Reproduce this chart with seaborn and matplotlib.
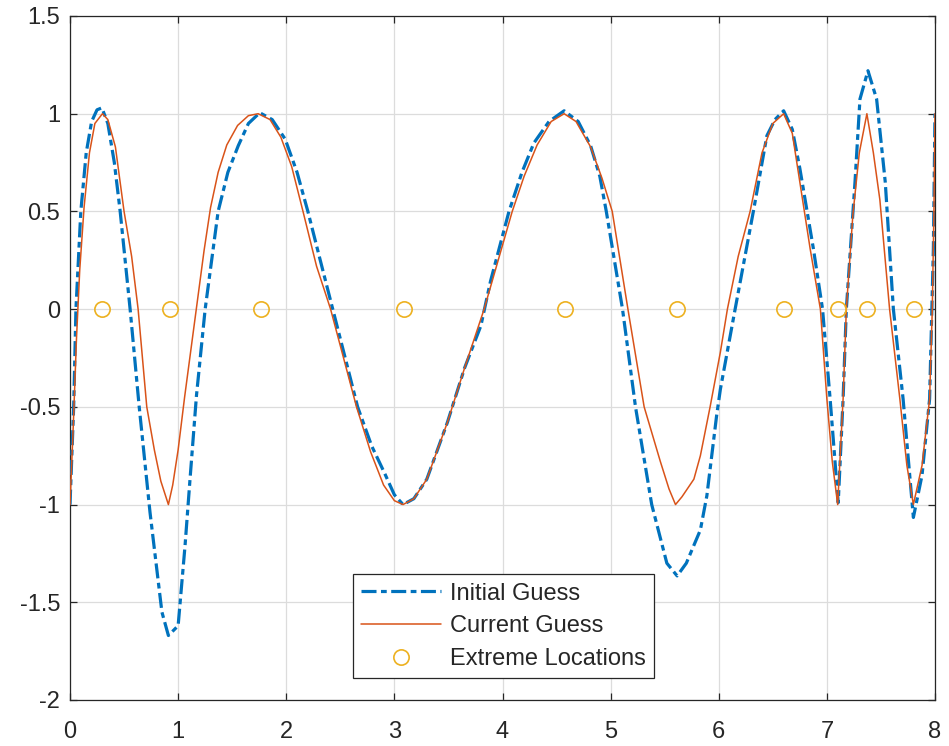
import numpy as np
import pandas as pd
import matplotlib
matplotlib.use("Agg")
import matplotlib.pyplot as plt
import seaborn as sns

# --- data ---
init_x = [0.0, 0.034, 0.055, 0.10, 0.15, 0.2, 0.25, 0.295, 0.35, 0.41, 0.464, 0.556, 0.64,
          0.74, 0.85, 0.91, 1.0, 1.064, 1.11, 1.17, 1.25, 1.37, 1.46, 1.556, 1.65, 1.755,
          1.87, 1.99, 2.10, 2.20, 2.31, 2.43, 2.55, 2.66, 2.79, 2.91, 3.0, 3.08, 3.18,
          3.30, 3.49, 3.65, 3.80, 3.89, 4.06, 4.18, 4.29, 4.43, 4.57, 4.70, 4.815, 4.90,
          4.96, 5.11, 5.23, 5.38, 5.52, 5.615, 5.70, 5.83, 5.89, 5.98, 6.015, 6.14, 6.32,
          6.445, 6.52, 6.60, 6.68, 6.75, 6.875, 6.96, 7.03, 7.105, 7.15, 7.18, 7.26,
          7.306, 7.38, 7.46, 7.54, 7.615, 7.705, 7.80, 7.88, 7.95, 7.985, 8.0]
init_y = [-1.0, -0.5, 0.0, 0.5, 0.8, 0.96, 1.02, 1.03, 0.95, 0.75, 0.5, 0.0, -0.5,
          -1.04, -1.55, -1.67, -1.62, -1.21, -0.87, -0.44, 0.0, 0.5, 0.7, 0.836, 0.95, 1.005,
          0.97, 0.87, 0.7, 0.5, 0.26, 0.0, -0.26, -0.5, -0.7, -0.84, -0.95, -1.0, -0.97,
          -0.87, -0.58, -0.3, -0.085, 0.145, 0.5, 0.7, 0.85, 0.96, 1.015, 0.96, 0.836, 0.68,
          0.5, 0.0, -0.5, -1.0, -1.3, -1.365, -1.3, -1.13, -0.955, -0.546, -0.41, -0.034, 0.5,
          0.887, 0.97, 1.015, 0.92, 0.72, 0.31, 0.0, -0.46, -0.99, -0.46, 0.0, 0.65,
          1.075, 1.22, 1.075, 0.65, 0.0, -0.46, -1.066, -0.85, -0.46, 0.31, 1.0]

curr_x = [0.0, 0.03, 0.06, 0.09, 0.13, 0.18, 0.23, 0.30, 0.35, 0.42, 0.50, 0.57, 0.63,
          0.71, 0.78, 0.84, 0.91, 0.95, 1.0, 1.06, 1.12, 1.18, 1.24, 1.30, 1.37, 1.45,
          1.55, 1.65, 1.74, 1.85, 1.95, 2.05, 2.155, 2.28, 2.41, 2.53, 2.65, 2.78, 2.90,
          3.0, 3.08, 3.18, 3.30, 3.49, 3.65, 3.83, 3.96, 4.09, 4.20, 4.32, 4.45, 4.57,
          4.68, 4.815, 4.92, 5.015, 5.16, 5.31, 5.46, 5.54, 5.60, 5.66, 5.77, 5.83, 5.92,
          6.015, 6.08, 6.18, 6.29, 6.40, 6.50, 6.60, 6.68, 6.75, 6.845, 6.94, 7.0, 7.05,
          7.10, 7.15, 7.18, 7.24, 7.30, 7.37, 7.43, 7.49, 7.58, 7.675, 7.74, 7.80, 7.88,
          7.95, 7.975, 7.99, 8.0]
curr_y = [-1.0, -0.6, -0.15, 0.2, 0.52, 0.8, 0.95, 1.0, 0.97, 0.83, 0.5, 0.27, 0.0,
          -0.5, -0.72, -0.88, -1.0, -0.9, -0.72, -0.45, -0.2, 0.05, 0.3, 0.52, 0.7, 0.84,
          0.94, 0.99, 1.0, 0.97, 0.88, 0.73, 0.5, 0.22, 0.0, -0.25, -0.5, -0.73, -0.9,
          -0.98, -1.0, -0.97, -0.87, -0.58, -0.3, 0.0, 0.25, 0.5, 0.68, 0.84, 0.96, 1.0,
          0.96, 0.83, 0.67, 0.5, 0.0, -0.5, -0.78, -0.92, -1.0, -0.96, -0.87, -0.75, -0.5,
          -0.22, 0.0, 0.27, 0.5, 0.8, 0.95, 1.0, 0.9, 0.65, 0.31, 0.0, -0.46, -0.78,
          -1.0, -0.46, 0.0, 0.48, 0.8, 1.0, 0.8, 0.56, 0.0, -0.46, -0.8, -1.0, -0.8,
          -0.46, 0.0, 0.5, 1.0]

extreme_x = [0.295, 0.922, 1.762, 3.09, 4.576, 5.61, 6.605, 7.10, 7.37, 7.81]
extreme_y = [0, 0, 0, 0, 0, 0, 0, 0, 0, 0]

x_ticks = [0, 1, 2, 3, 4, 5, 6, 7, 8]
y_ticks = [-2, -1.5, -1, -0.5, 0, 0.5, 1, 1.5]

BLUE, ORANGE, YELLOW = "#0072BD", "#D95319", "#EDB120"
DARK = "#262626"

sns.set_theme(style="white")
plt.rcParams["font.family"] = ["Liberation Sans", "DejaVu Sans"]
plt.rcParams["axes.unicode_minus"] = False

fig = plt.figure(figsize=(9.49, 7.46), dpi=100)
ax = fig.add_axes([70 / 949, 46 / 746, 865 / 949, 684 / 746])

init_df = pd.DataFrame({"x": init_x, "y": init_y})
curr_df = pd.DataFrame({"x": curr_x, "y": curr_y})
ext_df = pd.DataFrame({"x": extreme_x, "y": extreme_y})

sns.lineplot(data=init_df, x="x", y="y", ax=ax, sort=False, estimator=None,
             color=BLUE, linewidth=2.3, linestyle=(0, (4.7, 1.4, 1.8, 1.4)),
             label="Initial Guess", zorder=3)
sns.lineplot(data=curr_df, x="x", y="y", ax=ax, sort=False, estimator=None,
             color=ORANGE, linewidth=1.1, label="Current Guess", zorder=4)
ax.plot(ext_df["x"], ext_df["y"], linestyle="none", marker="o", markersize=11,
        markerfacecolor="none", markeredgecolor=YELLOW, markeredgewidth=1.2,
        label="Extreme Locations", zorder=5)

ax.set_xlim(0, 8)
ax.set_ylim(-2, 1.5)
ax.set_xticks(x_ticks)
ax.set_yticks(y_ticks)
ax.set_xticklabels([f"{t:g}" for t in x_ticks])
ax.set_yticklabels([f"{t:g}" for t in y_ticks])
ax.set_xlabel("")
ax.set_ylabel("")

ax.grid(True, color="#dcdcdc", linewidth=0.9)
ax.set_axisbelow(True)
for s in ax.spines.values():
    s.set_visible(True)
    s.set_color(DARK)
    s.set_linewidth(0.9)
ax.tick_params(direction="in", length=5, width=0.9, colors=DARK,
               labelsize=17, top=True, right=True, bottom=True, left=True)
ax.tick_params(axis="x", pad=15)
ax.tick_params(axis="y", pad=7)

leg = ax.legend(loc="lower center", bbox_to_anchor=(0.501, 0.032), fontsize=17,
                frameon=True, fancybox=False, framealpha=1, edgecolor=DARK,
                borderpad=0.35, labelspacing=0.45, handlelength=3.4, handletextpad=0.35,
                borderaxespad=0)
leg.get_frame().set_linewidth(0.9)
for t in leg.get_texts():
    t.set_color(DARK)

fig.savefig("out.png", dpi=100)
